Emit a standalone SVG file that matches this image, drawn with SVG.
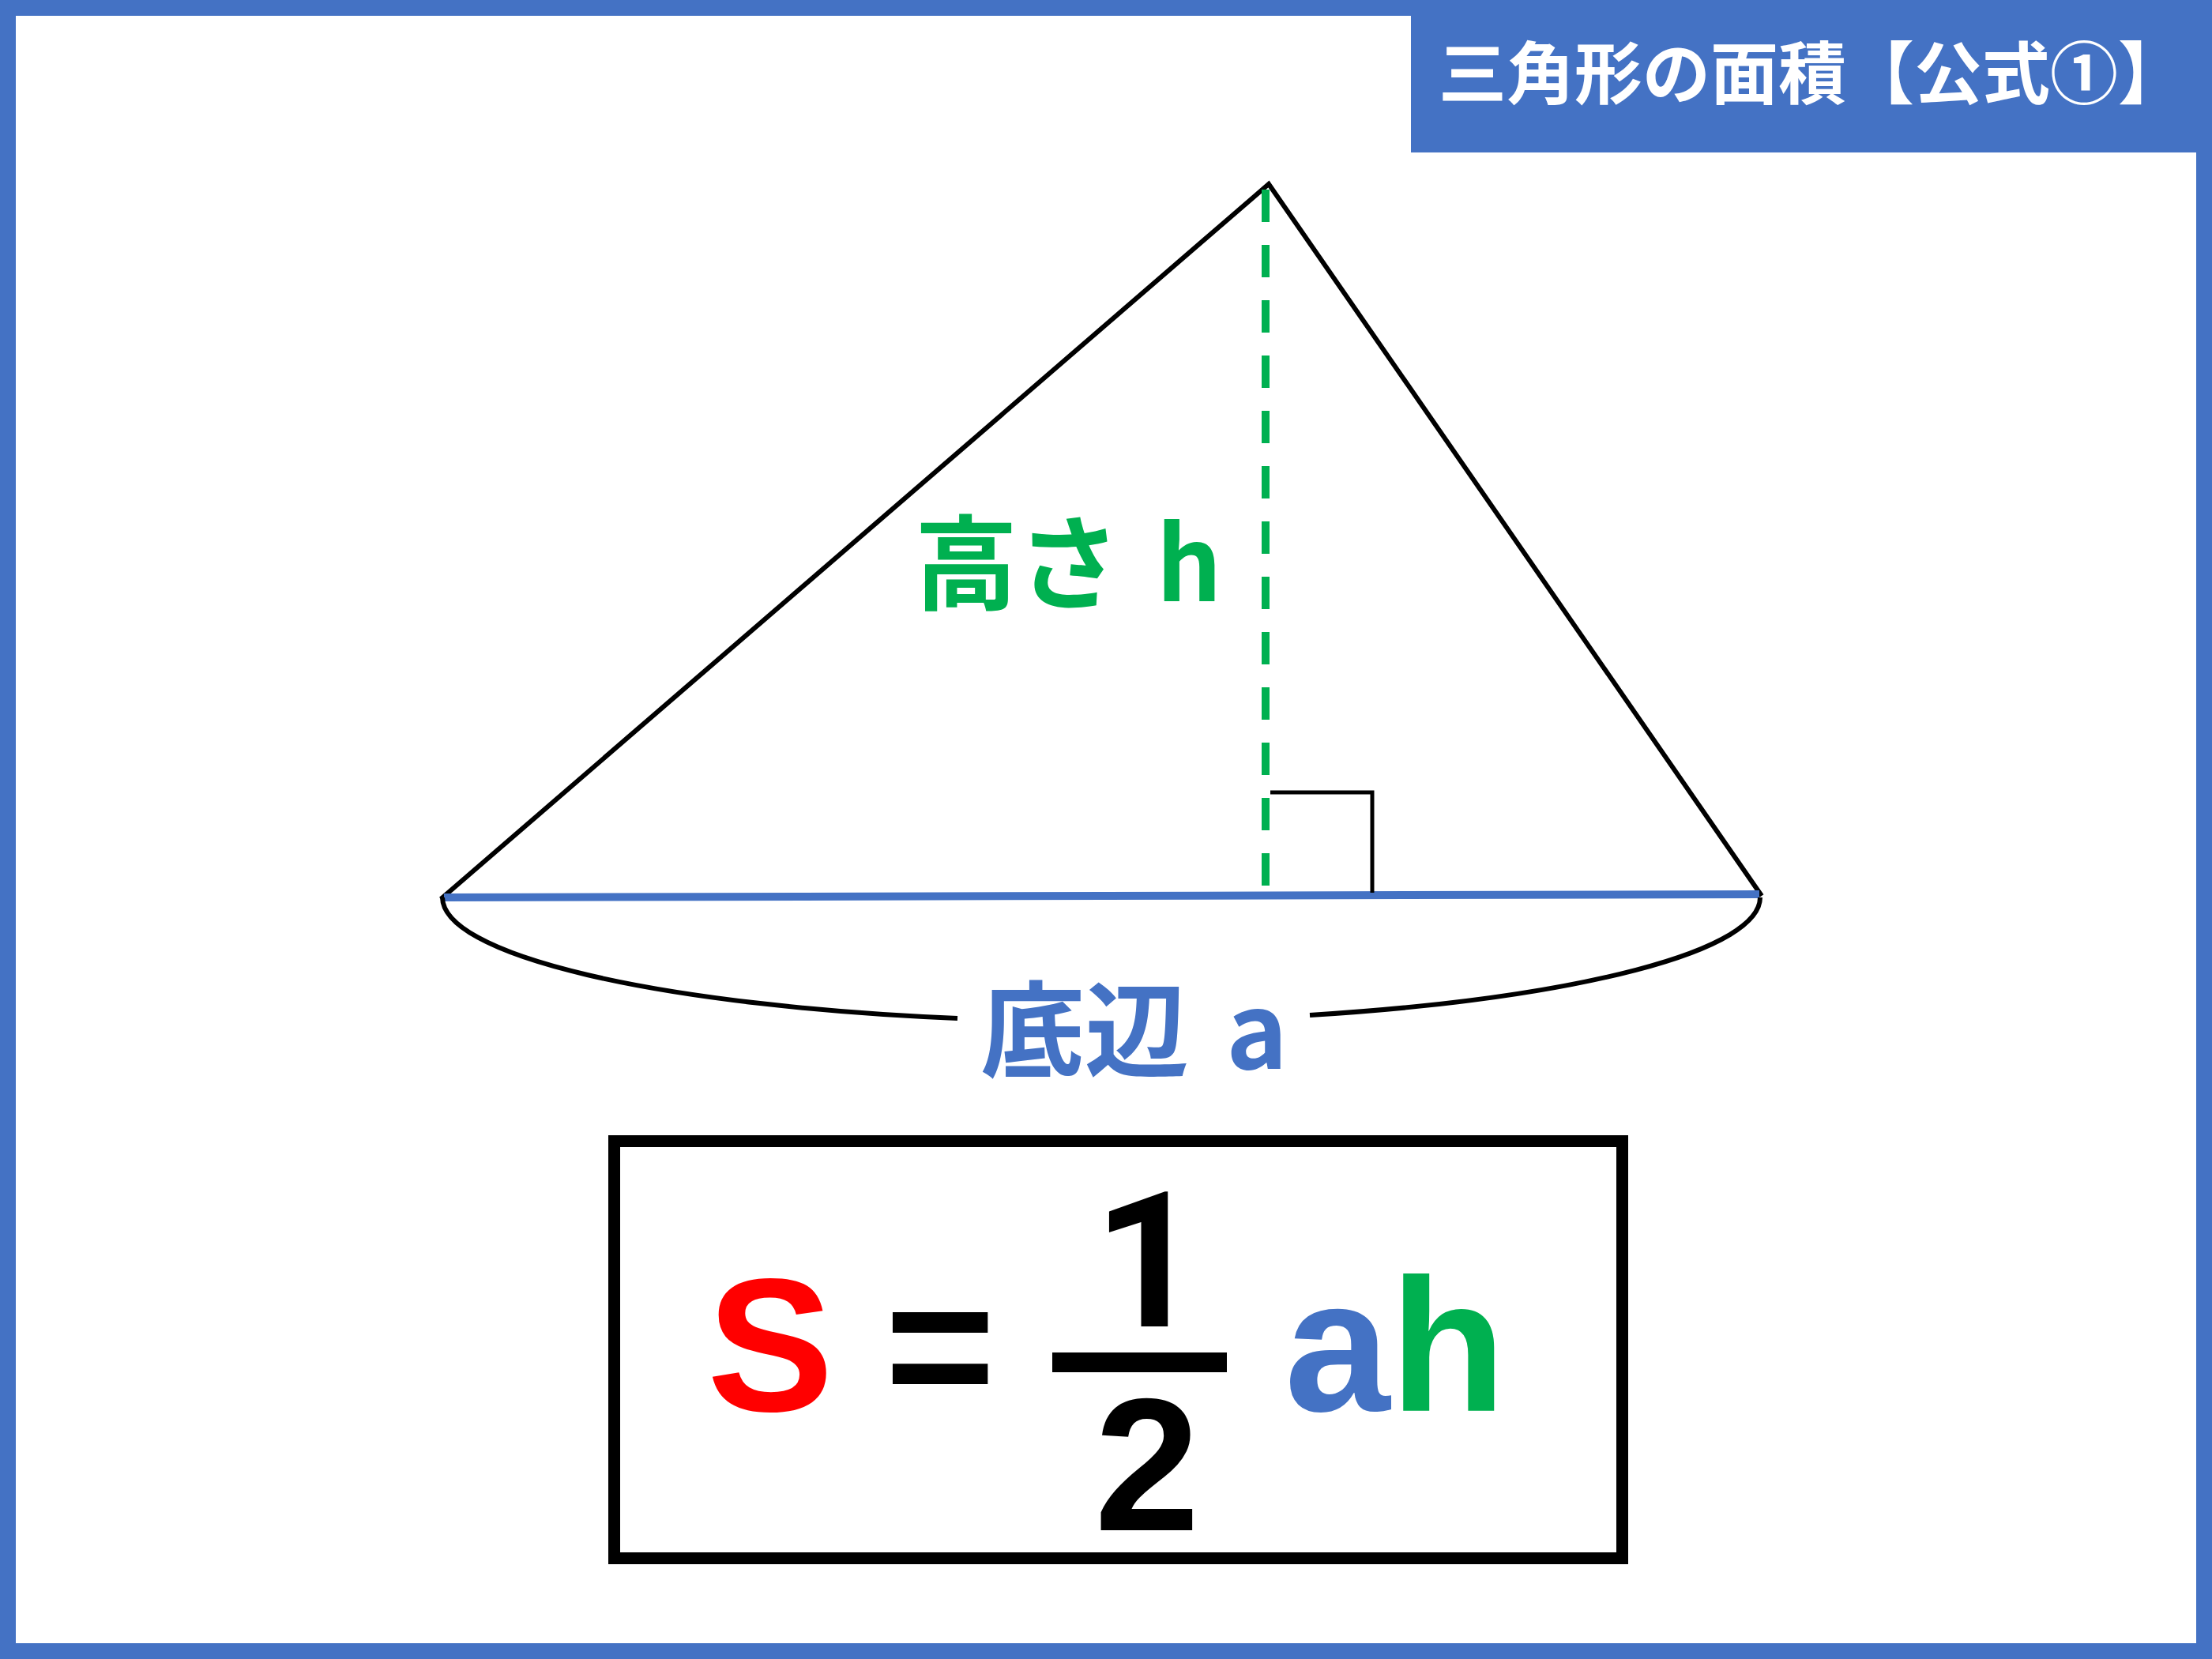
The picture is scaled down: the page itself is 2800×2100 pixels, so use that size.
<svg xmlns="http://www.w3.org/2000/svg" width="2800" height="2100" viewBox="0 0 2800 2100">
<style>
.jp{font-family:"Noto Sans CJK JP","Noto Sans CJK SC",sans-serif;font-weight:bold}
.ar{font-family:"Liberation Sans",Arial,sans-serif;font-weight:bold}
.rb{font-family:Roboto,"Liberation Sans",sans-serif;font-weight:bold}
.blk{fill:none;stroke:#000000;stroke-width:6}
</style>
<rect x="0" y="0" width="2800" height="2100" fill="#ffffff"/>
<g id="frame">
<rect x="10" y="10" width="2780" height="2080" fill="none" stroke="#4472C4" stroke-width="20"/>
</g>
<g id="title">
<rect x="1786" y="0" width="1014" height="193" fill="#4472C4"/>
<text class="jp" x="1821" y="125" font-size="86" fill="#ffffff">三角形の面積【公式①】</text>
</g>
<g id="triangle">
<polyline class="blk" points="558,1138 1606,233 2230,1134" stroke-linejoin="miter"/>
</g>
<g id="connectors">
<line id="base" x1="562" y1="1136" x2="2227" y2="1132" stroke="#4472C4" stroke-width="10"/>
<line id="height" x1="1602" y1="240" x2="1602" y2="1122" stroke="#00B050" stroke-width="10" stroke-dasharray="41 29"/>
<polyline id="right-angle" points="1608,1003 1737,1003 1737,1130" fill="none" stroke="#000000" stroke-width="5"/>
<path id="brace-left" class="blk" d="M 560 1136 A 834 157 0 0 0 1212 1289"/>
<path id="brace-right" class="blk" d="M 1658 1285 A 834 157 0 0 0 2228 1136"/>
</g>
<g id="label-height">
<text class="jp" x="1158" y="761" font-size="130" fill="#00B050">高さ<tspan dx="16"> h</tspan></text>
</g>
<g id="label-base">
<text class="jp" x="1241" y="1353" font-size="132" fill="#4472C4">底辺<tspan dx="17"> a</tspan></text>
</g>
<g id="formula">
<rect x="777.5" y="1444.5" width="1276" height="528" fill="none" stroke="#000000" stroke-width="15"/>
<text class="ar" x="895" y="1786" font-size="240" fill="#FF0000">S</text>
<text class="ar" x="1120" y="1786" font-size="240" fill="#000000">=</text>
<text class="rb" x="1453" y="1679" font-size="240" fill="#000000" text-anchor="middle">1</text>
<rect x="1332" y="1712" width="221" height="25" fill="#000000"/>
<text class="ar" x="1452" y="1937" font-size="240" fill="#000000" text-anchor="middle">2</text>
<text class="ar" x="1626" y="1786" font-size="240"><tspan fill="#4472C4">a</tspan><tspan fill="#00B050">h</tspan></text>
</g>
</svg>
